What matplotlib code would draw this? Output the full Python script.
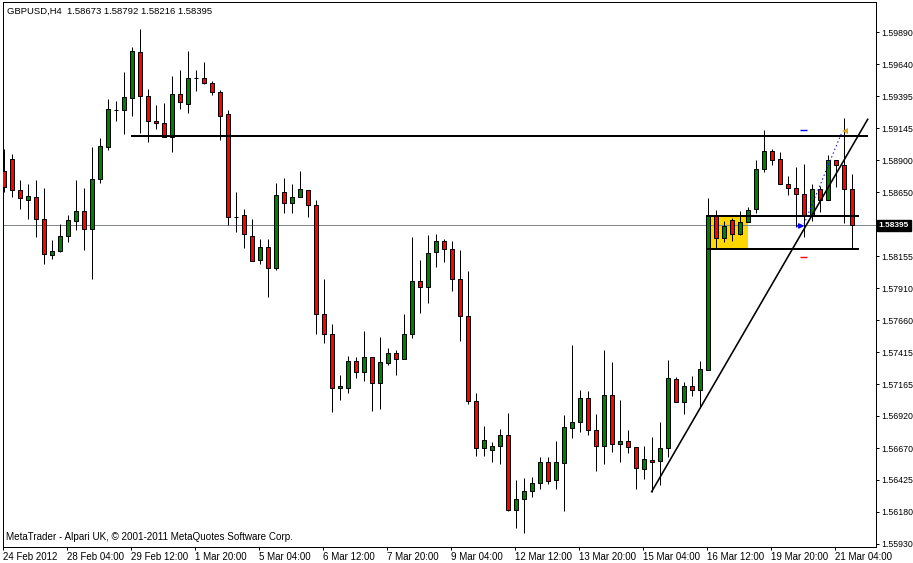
import matplotlib
matplotlib.use("Agg")
import matplotlib.pyplot as plt
from matplotlib.patches import Rectangle
import matplotlib.transforms as mtransforms

plt.rcParams['font.family'] = ['Liberation Sans', 'DejaVu Sans']

# ---------------- data ----------------
symbol_info = "GBPUSD,H4  1.58673 1.58792 1.58216 1.58395"
footer = "MetaTrader - Alpari UK, \u00a9 2001-2011 MetaQuotes Software Corp."

opens = [1.58815, 1.58908, 1.58668, 1.58591, 1.58614, 1.58444, 1.58165, 1.58196, 1.58312, 1.58428,
         1.58506, 1.58366, 1.58753, 1.59001, 1.59285, 1.59287, 1.59380, 1.59735, 1.59395, 1.59202,
         1.59186, 1.59078, 1.59410, 1.59333, 1.59534, 1.59534, 1.59496, 1.59426, 1.59256, 1.58459,
         1.58475, 1.58312, 1.58127, 1.58227, 1.58065, 1.58652, 1.58567, 1.58614, 1.58668, 1.58552,
         1.57709, 1.57554, 1.57137, 1.57137, 1.57345, 1.57260, 1.57376, 1.57175, 1.57330, 1.57407,
         1.57361, 1.57554, 1.57964, 1.57918, 1.58188, 1.58274, 1.58212, 1.57980, 1.57693, 1.57036,
         1.56673, 1.56657, 1.56688, 1.56773, 1.56193, 1.56278, 1.56340, 1.56402, 1.56564, 1.56425,
         1.56556, 1.56827, 1.56874, 1.57059, 1.56812, 1.56688, 1.57082, 1.56703, 1.56727, 1.56680,
         1.56510, 1.56580, 1.56572, 1.56673, 1.57206, 1.57028, 1.57152, 1.57121, 1.57276, 1.58467,
         1.58297, 1.58436, 1.58328, 1.58420, 1.58521, 1.58830, 1.58970, 1.58908, 1.58714, 1.58683,
         1.58637, 1.58475, 1.58676, 1.58591, 1.58900, 1.58861, 1.58673]

highs = [1.58985, 1.58946, 1.58745, 1.58714, 1.58745, 1.58683, 1.58281, 1.58405, 1.58475, 1.58745,
         1.58683, 1.59001, 1.59070, 1.59372, 1.59356, 1.59581, 1.59774, 1.59913, 1.59449, 1.59325,
         1.59341, 1.59550, 1.59596, 1.59743, 1.59596, 1.59658, 1.59511, 1.59441, 1.59287, 1.58652,
         1.58521, 1.58444, 1.58289, 1.58289, 1.58722, 1.58761, 1.58714, 1.58815, 1.58668, 1.58591,
         1.57980, 1.57632, 1.57237, 1.57384, 1.57376, 1.57577, 1.57376, 1.57531, 1.57446, 1.57431,
         1.57709, 1.58304, 1.58127, 1.58320, 1.58328, 1.58289, 1.58274, 1.58204, 1.58042, 1.57098,
         1.56843, 1.56719, 1.56819, 1.56943, 1.56425, 1.56441, 1.56448, 1.56603, 1.56603, 1.56727,
         1.56928, 1.57469, 1.57121, 1.57113, 1.56936, 1.57431, 1.57338, 1.57044, 1.56812, 1.56680,
         1.56688, 1.56758, 1.56874, 1.57353, 1.57222, 1.57183, 1.57229, 1.57345, 1.58606, 1.58513,
         1.58428, 1.58451, 1.58506, 1.58536, 1.58900, 1.59132, 1.58985, 1.58962, 1.58776, 1.58846,
         1.58869, 1.58714, 1.58699, 1.58939, 1.58900, 1.59225, 1.58792]

lows = [1.58652, 1.58614, 1.58521, 1.58444, 1.58304, 1.58096, 1.58134, 1.58188, 1.58266, 1.58359,
        1.58204, 1.57980, 1.58722, 1.58977, 1.59202, 1.59101, 1.59240, 1.59109, 1.59039, 1.59140,
        1.59078, 1.58962, 1.59294, 1.59264, 1.59434, 1.59488, 1.59403, 1.59055, 1.58397, 1.58343,
        1.58219, 1.58119, 1.58096, 1.57840, 1.58049, 1.58490, 1.58490, 1.58614, 1.58459, 1.57554,
        1.57485, 1.56951, 1.57044, 1.57098, 1.57214, 1.57191, 1.56959, 1.56974, 1.57314, 1.57237,
        1.57361, 1.57523, 1.57717, 1.57794, 1.58072, 1.58111, 1.57887, 1.57500, 1.57013, 1.56611,
        1.56611, 1.56564, 1.56549, 1.56185, 1.56054, 1.56015, 1.56294, 1.56355, 1.56394, 1.56355,
        1.56185, 1.56750, 1.56796, 1.56773, 1.56495, 1.56549, 1.56642, 1.56564, 1.56634, 1.56355,
        1.56433, 1.56332, 1.56386, 1.56603, 1.57028, 1.56936, 1.57075, 1.56990, 1.57276, 1.58219,
        1.58266, 1.58274, 1.58320, 1.58420, 1.58490, 1.58807, 1.58861, 1.58714, 1.58629, 1.58382,
        1.58304, 1.58428, 1.58498, 1.58591, 1.58691, 1.58413, 1.58216]

closes = [1.58691, 1.58668, 1.58606, 1.58622, 1.58444, 1.58173, 1.58196, 1.58312, 1.58436, 1.58506,
          1.58366, 1.58753, 1.59008, 1.59294, 1.59290, 1.59387, 1.59743, 1.59395, 1.59202, 1.59186,
          1.59078, 1.59410, 1.59349, 1.59534, 1.59534, 1.59496, 1.59426, 1.59240, 1.58459, 1.58459,
          1.58328, 1.58119, 1.58227, 1.58065, 1.58629, 1.58567, 1.58614, 1.58676, 1.58552, 1.57709,
          1.57554, 1.57137, 1.57152, 1.57345, 1.57260, 1.57376, 1.57175, 1.57338, 1.57407, 1.57361,
          1.57554, 1.57964, 1.57918, 1.58181, 1.58274, 1.58212, 1.57980, 1.57693, 1.57036, 1.56673,
          1.56734, 1.56688, 1.56773, 1.56193, 1.56278, 1.56340, 1.56402, 1.56564, 1.56417, 1.56564,
          1.56835, 1.56874, 1.57059, 1.56812, 1.56688, 1.57082, 1.56703, 1.56727, 1.56680, 1.56518,
          1.56587, 1.56564, 1.56673, 1.57214, 1.57028, 1.57152, 1.57121, 1.57283, 1.58467, 1.58297,
          1.58390, 1.58328, 1.58420, 1.58513, 1.58830, 1.58970, 1.58900, 1.58714, 1.58683, 1.58637,
          1.58475, 1.58676, 1.58591, 1.58900, 1.58861, 1.58676, 1.58395]

x_tick_bars = [0, 8, 16, 24, 32, 40, 48, 56, 64, 72, 80, 88, 96, 104]
x_tick_labels = ["24 Feb 2012", "28 Feb 04:00", "29 Feb 12:00", "1 Mar 20:00", "5 Mar 04:00",
                 "6 Mar 12:00", "7 Mar 20:00", "9 Mar 04:00", "12 Mar 12:00", "13 Mar 20:00",
                 "15 Mar 04:00", "16 Mar 12:00", "19 Mar 20:00", "21 Mar 04:00"]
y_ticks = [1.59890, 1.59640, 1.59395, 1.59145, 1.58900, 1.58650, 1.58155, 1.57910,
           1.57660, 1.57415, 1.57165, 1.56920, 1.56670, 1.56425, 1.56180, 1.55930]
y_tick_labels = ["1.59890", "1.59640", "1.59395", "1.59145", "1.58900", "1.58650", "1.58155", "1.57910",
                 "1.57660", "1.57415", "1.57165", "1.56920", "1.56670", "1.56425", "1.56180", "1.55930"]

resistance_level = 1.59082
resistance_bars = (15.9, 108.0)
range_top = 1.58469
range_bottom = 1.58209
range_bars = (87.8, 106.9)
box_bars = (87.84, 92.96)
trend_bars = (80.96, 107.96)
trend_prices = (1.56335, 1.59215)
bid_price = 1.58395
bid_label = "1.58395"
trade_open_bar, trade_open_price = 99.6, 1.58390
trade_close_bar, trade_close_price = 105.1, 1.59124
trade_line_bars = (100.0, 104.75)
trade_line_prices = (1.58405, 1.59117)
take_profit, stop_loss = 1.59132, 1.58148
level_mark_bars = (99.5, 100.35)

# ---------------- figure ----------------
W, H = 913, 563
fig = plt.figure(figsize=(W / 100, H / 100), dpi=100)
ax = fig.add_axes([2.5 / W, 1 - 546.7 / H, (875.7 - 2.5) / W, (546.7 - 2.3) / H])
ax.set_xlim(-0.1875, 108.96)
ax.set_ylim(1.55909, 1.60120)
PX = 0.72  # one pixel in points

# yellow box
ax.add_patch(Rectangle((box_bars[0], range_bottom), box_bars[1] - box_bars[0],
                       range_top - range_bottom, facecolor='#FFD700', edgecolor='none', zorder=1))

# bid line
ax.axhline(bid_price, color='#7d8894', lw=PX, zorder=1.5)

# candles
body_w = 0.5
for i, (o, h, l, c) in enumerate(zip(opens, highs, lows, closes)):
    ax.vlines(i, l, h, color='black', lw=PX, zorder=2)
    if c > o:
        fc = '#008000'
    elif c < o:
        fc = '#FF0000'
    else:
        fc = 'black'
    hgt = max(abs(c - o), 0.00003)
    ax.add_patch(Rectangle((i - body_w / 2, min(o, c)), body_w, hgt,
                           facecolor=fc, edgecolor='black', lw=PX, zorder=3))

# horizontal levels
ax.hlines(resistance_level, *resistance_bars, color='black', lw=2 * PX, zorder=4)
ax.hlines([range_top, range_bottom], *range_bars, color='black', lw=2 * PX, zorder=4)

# trend line
ax.plot(trend_bars, trend_prices, color='black', lw=1.6 * PX, zorder=4)

# trade markers
ax.plot(trade_line_bars, trade_line_prices, color='blue', lw=PX, ls=(0, (1.5, 2.5)), zorder=5)
ax.hlines(take_profit, *level_mark_bars, color='blue', lw=1.4 * PX, zorder=5)
ax.hlines(stop_loss, *level_mark_bars, color='red', lw=1.4 * PX, zorder=5)
ax.annotate('', xy=(trade_open_bar + 0.45, trade_open_price),
            xytext=(trade_open_bar - 0.45, trade_open_price),
            arrowprops=dict(arrowstyle='-|>', color='blue', lw=1.6 * PX, mutation_scale=7,
                            shrinkA=0, shrinkB=0), zorder=6)
ax.plot([trade_close_bar], [trade_close_price], marker='<', color='#DAA520', ms=5, mew=0, zorder=6)

# axes styling
for s in ax.spines.values():
    s.set_color('black')
    s.set_linewidth(PX)
ax.yaxis.tick_right()
ax.set_yticks(y_ticks)
ax.set_yticklabels(y_tick_labels)
ax.set_xticks([b - 0.125 for b in x_tick_bars])
ax.set_xticklabels(x_tick_labels, ha='left')
ax.tick_params(axis='x', direction='out', length=2.4, width=PX, colors='black',
               labelsize=7, pad=1.2)
ax.tick_params(axis='y', direction='out', length=2.4, width=PX, colors='black',
               labelsize=6.3, pad=1.8)
for lab in ax.get_xticklabels():
    lab.set_horizontalalignment('left')

# bid label box
trans = mtransforms.blended_transform_factory(ax.transAxes, ax.transData)
ax.text(1.0 + 3.0 / 873.2, bid_price, bid_label, transform=trans, ha='left', va='center',
        color='white', fontsize=6.0, fontweight='bold', clip_on=False, zorder=10,
        bbox=dict(boxstyle='square,pad=0.22', fc='black', ec='black'))

# texts
fig.text(7 / W, 1 - 11 / H, symbol_info, fontsize=6.8, color='black', ha='left', va='center')
fig.text(6 / W, 1 - 537.5 / H, footer, fontsize=7.1, color='black', ha='left', va='center')

fig.savefig('out.png', dpi=100, facecolor='white')
